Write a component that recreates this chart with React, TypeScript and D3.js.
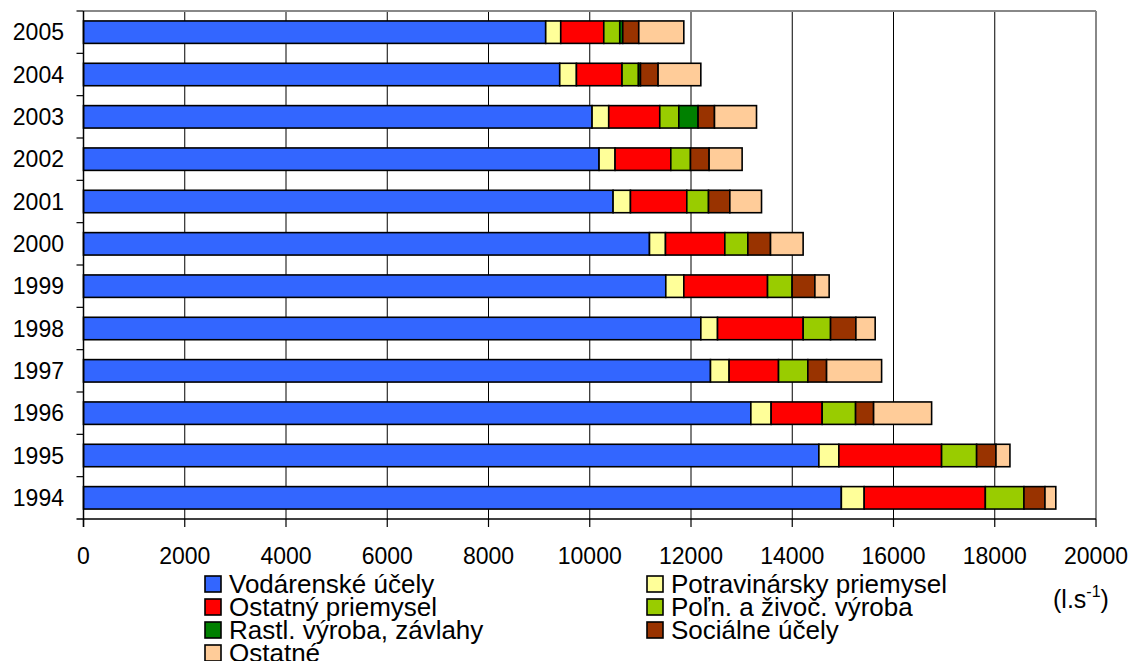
import React from 'react';
import * as d3 from 'd3';

// Years top to bottom as shown in the chart
const years = ['2005', '2004', '2003', '2002', '2001', '2000', '1999', '1998', '1997', '1996', '1995', '1994'];

const seriesNames = [
  'Vodárenské účely',
  'Potravinársky priemysel',
  'Ostatný priemysel',
  'Poľn. a živoč. výroba',
  'Rastl. výroba, závlahy',
  'Sociálne účely',
  'Ostatné',
];

const seriesColors = ['#3366FF', '#FFFF99', '#FF0000', '#99CC00', '#008000', '#993300', '#FFCC99'];

// values in l.s-1, same order as years
const vodarenske = [9130, 9407, 10046, 10184, 10461, 11180, 11502, 12194, 12385, 13182, 14526, 14970];
const potravinarsky = [297, 330, 329, 316, 343, 316, 356, 330, 368, 401, 395, 451];
const ostatnyPriemysel = [850, 901, 1008, 1101, 1113, 1172, 1654, 1692, 976, 1008, 2029, 2393];
const polnZivoc = [316, 324, 376, 389, 429, 455, 486, 541, 579, 660, 692, 763];
const rastlZavlahy = [59, 40, 381, 0, 0, 0, 0, 0, 0, 0, 0, 0];
const socialne = [316, 348, 324, 368, 421, 448, 449, 500, 370, 356, 382, 415];
const ostatne = [890, 844, 830, 652, 626, 644, 282, 381, 1087, 1146, 276, 214];

const xTicks = [0, 2000, 4000, 6000, 8000, 10000, 12000, 14000, 16000, 18000, 20000];

// legend layout: two columns like the original
const legendOrder = [
  [0, 2, 4, 6],
  [1, 3, 5],
];

const W = 1132;
const H = 661;
const m = { left: 83.5, top: 11, right: 1096, bottom: 519 };
const font = '"Liberation Sans", Arial, sans-serif';

export default function App() {
  const table = years.map((y, i) => ({
    year: y,
    s0: vodarenske[i],
    s1: potravinarsky[i],
    s2: ostatnyPriemysel[i],
    s3: polnZivoc[i],
    s4: rastlZavlahy[i],
    s5: socialne[i],
    s6: ostatne[i],
  }));
  const keys = ['s0', 's1', 's2', 's3', 's4', 's5', 's6'];
  const stacked = d3.stack<any>().keys(keys)(table);

  const x = d3.scaleLinear().domain([0, 20000]).range([m.left, m.right]);
  const y = d3
    .scaleBand<string>()
    .domain(years)
    .range([m.top, m.bottom])
    .paddingInner(0.47)
    .paddingOuter(0.235);
  const step = y.step();

  return (
    <svg
      width={W}
      height={H}
      style={{ position: 'absolute', left: 0, top: 0, display: 'block', background: '#fff' }}
      fontFamily={font}
    >
      {/* vertical gridlines */}
      {xTicks.slice(1, -1).map((t) => (
        <line key={t} x1={x(t)} x2={x(t)} y1={m.top} y2={m.bottom} stroke="#000" strokeWidth={1} />
      ))}
      {/* plot border top/right */}
      <line x1={m.left} x2={m.right} y1={m.top} y2={m.top} stroke="#888" strokeWidth={2} />
      <line x1={m.right} x2={m.right} y1={m.top} y2={m.bottom} stroke="#888" strokeWidth={2} />

      {/* bars */}
      {stacked.map((layer, si) => (
        <g key={si} fill={seriesColors[si]} stroke="#000" strokeWidth={1.6}>
          {layer.map((d: any, i: number) =>
            d[1] - d[0] > 0 ? (
              <rect
                key={i}
                x={x(d[0])}
                y={y(years[i])!}
                width={x(d[1]) - x(d[0])}
                height={y.bandwidth()}
              />
            ) : null
          )}
        </g>
      ))}

      {/* axes */}
      <line x1={m.left} x2={m.left} y1={m.top} y2={m.bottom + 8} stroke="#000" strokeWidth={1.5} />
      <line x1={m.left - 7} x2={m.right} y1={m.bottom} y2={m.bottom} stroke="#000" strokeWidth={1.5} />
      {xTicks.map((t) => (
        <g key={t}>
          <line x1={x(t)} x2={x(t)} y1={m.bottom} y2={m.bottom + 8} stroke="#000" strokeWidth={1.2} />
          <text x={x(t)} y={564} textAnchor="middle" fontSize={23}>
            {t}
          </text>
        </g>
      ))}
      {years.map((yr) => (
        <g key={yr}>
          <line
            x1={m.left - 7}
            x2={m.left}
            y1={(y(yr) as number) - (step - y.bandwidth()) / 2}
            y2={(y(yr) as number) - (step - y.bandwidth()) / 2}
            stroke="#000"
            strokeWidth={1.2}
          />
          <text x={64} y={(y(yr) as number) + y.bandwidth() / 2 + 8} textAnchor="end" fontSize={23}>
            {yr}
          </text>
        </g>
      ))}

      {/* unit */}
      <text x={1053} y={608} fontSize={25}>
        (l.s
        <tspan dy={-11} fontSize={16}>
          -1
        </tspan>
        <tspan dy={11}>)</tspan>
      </text>

      {/* legend */}
      {legendOrder.map((col, ci) =>
        col.map((si, ri) => {
          const lx = ci === 0 ? 205 : 647;
          const cy = 584 + ri * 23;
          return (
            <g key={si}>
              <rect
                x={lx}
                y={cy - 8}
                width={16}
                height={16}
                fill={seriesColors[si]}
                stroke="#000"
                strokeWidth={1.6}
              />
              <text x={lx + 24} y={cy + 9} fontSize={26}>
                {seriesNames[si]}
              </text>
            </g>
          );
        })
      )}
    </svg>
  );
}
